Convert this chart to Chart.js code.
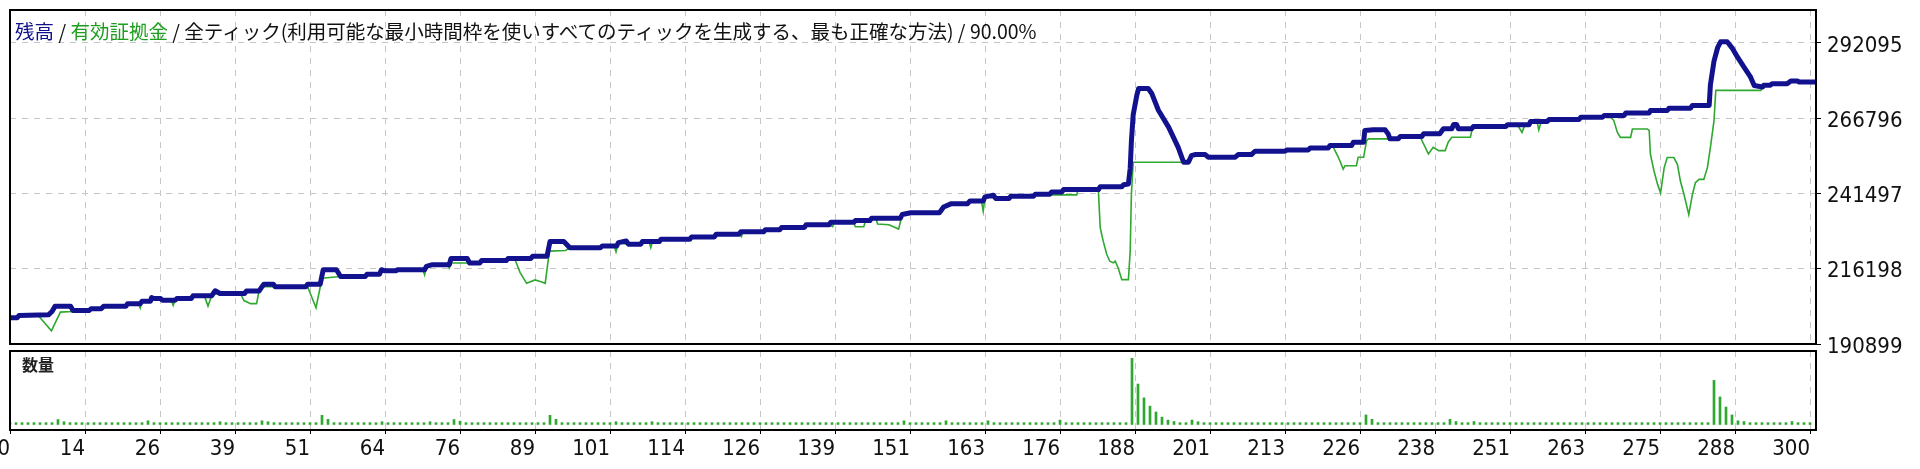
<!DOCTYPE html>
<html lang="ja">
<head>
<meta charset="UTF-8">
<title>残高 / 有効証拠金</title>
<script src="https://cdn.jsdelivr.net/npm/chart.js"></script>
<style>
  html, body { margin: 0; padding: 0; background: #fff; }
  #wrap { position: relative; width: 1920px; height: 469px; overflow: hidden; }
  #main { position: absolute; left: 0; top: 0; }
  #vol { position: absolute; left: 0; top: 345px; }
  .title { position: absolute; left: 15px; top: 18px; font: 19.5px "Noto Sans CJK JP", sans-serif; line-height: 26px; color: #111; white-space: nowrap; }
  .title .bal { color: #10108c; }
  .title .eq { color: #1e9e1e; }
  .vlab { position: absolute; left: 22px; top: 353px; font: bold 16px "Noto Sans CJK JP", sans-serif; line-height: 22px; color: #222; }
</style>
</head>
<body>
<div id="wrap">
  <canvas id="main" width="1920" height="364"></canvas>
  <canvas id="vol" width="1920" height="124"></canvas>
  <div class="title"><span class="bal">残高</span> / <span class="eq">有効証拠金</span> / 全ティック(利用可能な最小時間枠を使いすべてのティックを生成する、最も正確な方法) / 90.00%</div>
  <div class="vlab">数量</div>
</div>
<script>
// 取引番号ごとの残高 [取引番号, 金額]
const balance = [
  [0,199700],[1.2,199700],[1.5,200470],[6.4,200700],[7.0,201840],[7.5,203550],[10.1,203550],[10.5,202180],
  [13.2,202180],[13.5,202750],[15.2,202750],[15.6,203550],[19.3,203550],[19.6,204460],[21.7,204460],[22.0,205260],
  [23.4,205260],[23.6,206510],[24.0,206170],[25.1,206170],[25.4,205600],[27.5,205600],[27.8,206170],[30.2,206170],
  [30.5,207080],[33.6,207080],[34.2,208790],[35.0,207880],[39.1,207880],[39.4,208680],[41.5,208680],[42.0,210160],
  [42.3,210960],[43.9,210960],[44.2,210160],[49.3,210160],[49.6,210960],[51.7,210960],[52.2,215860],[54.4,215860],
  [55.1,213580],[59.2,213580],[59.5,214380],[61.6,214380],[61.9,215860],[62.5,215510],[64.3,215510],[64.6,215860],
  [69.1,215860],[69.4,217000],[70.4,217570],[73.2,217570],[73.5,219620],[76.2,219620],[76.6,218140],[78.3,218140],
  [78.6,218930],[82.7,218930],[83.0,219620],[86.8,219620],[87.1,220410],[89.5,220410],[90.0,225320],[92.3,225320],
  [93.3,223260],[98.4,223260],[98.7,223830],[101.1,223830],[101.4,224970],[102.7,225540],[103.1,224400],[105.1,224400],
  [105.4,225320],[108.2,225320],[108.5,226110],[113.3,226110],[113.6,226910],[117.4,226910],[117.7,227820],[121.5,227820],
  [121.8,228620],[125.6,228620],[125.9,229300],[128.3,229300],[128.6,230100],[132.4,230100],[132.7,231010],[136.5,231010],
  [136.8,231810],[140.6,231810],[140.9,232380],[143.3,232380],[143.6,233180],[148.4,233180],[148.7,234430],[150.1,235000],
  [154.9,235000],[155.6,236940],[156.9,238080],[159.6,238080],[160.0,238990],[162.2,238990],[162.5,240360],[163.9,240930],
  [164.3,239790],[166.5,239790],[166.8,240590],[170.6,240590],[170.9,241270],[173.3,241270],[173.6,242000],[175.3,242000],
  [175.6,242800],[181.4,242800],[181.7,243760],[185.3,243760],[185.6,244430],[186.4,244700],[186.7,250000],[186.9,259000],
  [187.2,268000],[187.8,274500],[188.1,276800],[189.7,276800],[190.3,275100],[191.4,269500],[193.1,263800],[194.7,257000],
  [195.6,252000],[196.4,252000],[196.9,254200],[197.5,254600],[199.2,254600],[199.7,253700],[204.2,253700],[204.7,254600],
  [206.9,254600],[207.5,255700],[212.5,255700],[212.8,256150],[216.4,256150],[216.7,256820],[219.7,256820],[220.0,257600],
  [223.6,257600],[223.9,258740],[225.6,258740],[225.8,262700],[227.2,262900],[229.2,262900],[229.7,261500],[230.0,259870],
  [231.4,259870],[231.7,260660],[235.3,260660],[235.6,261560],[238.3,261560],[238.9,263240],[240.3,263240],[240.6,264700],
  [241.1,264700],[241.4,263240],[243.6,263240],[243.9,264040],[249.3,264040],[249.6,264650],[253.2,264650],[253.4,265670],
  [256.2,265670],[256.5,266340],[261.5,266340],[261.8,267140],[265.4,267140],[265.7,267700],[269.0,267700],[269.3,268600],
  [273.2,268600],[273.4,269390],[276.2,269390],[276.5,270180],[280.1,270180],[280.4,271090],[283.2,271090],[283.4,278000],
  [284.0,286000],[284.6,290500],[285.1,292500],[286.2,292500],[287.1,290200],[287.9,287400],[289.0,284000],[290.1,280600],
  [290.7,277800],[292.1,277300],[292.3,277900],[293.4,277900],[293.7,278430],[296.2,278430],[296.8,279330],[297.9,279330],
  [298.2,278990],[301,278990]
];

// 有効証拠金 [取引番号, 金額]
const equity = [
  [0,199700],[1.2,199700],[1.5,200470],[4.7,200470],[6.9,195340],[8.4,201610],[10.3,201800],[10.5,202180],
  [13.2,202180],[13.5,202750],[15.2,202750],[15.6,203550],[19.3,203550],[19.6,204460],[21.4,204460],[21.7,202980],
  [22.0,205260],[23.6,205260],[24.0,206170],[25.1,206170],[25.4,205600],[26.9,205600],[27.2,203890],[27.5,205600],
  [27.8,206170],[30.2,206170],[30.5,207080],[32.4,207080],[33.0,203660],[33.6,207080],[34.0,207880],[38.4,207880],
  [39.0,205500],[40.1,204460],[41.1,204460],[41.5,208680],[42.0,210160],[49.6,210160],[51.0,203090],[52.0,213000],
  [55.1,213580],[59.2,213580],[59.5,214380],[61.6,214380],[61.9,215510],[64.3,215510],[64.6,215860],[68.8,215860],
  [69.1,214150],[69.4,217000],[70.4,217570],[73.0,217570],[73.2,216430],[73.6,218140],[78.3,218140],[78.6,218930],
  [82.7,218930],[83.0,219620],[84.1,219620],[85.0,215000],[86.1,211300],[87.5,212440],[88.5,211800],[89.2,211300],
  [89.9,222120],[92.6,222350],[93.3,223260],[98.4,223260],[98.7,223830],[100.7,223830],[101.0,221900],[101.4,224970],
  [103.1,224400],[105.1,224400],[105.4,225320],[106.5,225320],[106.8,223260],[107.1,225320],[108.2,225320],[108.5,226110],
  [113.3,226110],[113.6,226910],[117.4,226910],[117.7,227820],[121.6,227820],[121.9,227020],[122.2,228620],[125.6,228620],
  [125.9,229300],[128.3,229300],[128.6,230100],[132.4,230100],[132.7,231010],[136.5,231010],[137.1,230330],[137.4,231810],
  [140.6,231810],[140.9,230330],[142.3,230330],[142.6,232380],[143.3,232380],[143.6,233180],[144.3,233180],[144.6,231240],
  [146.5,231000],[148.1,229530],[148.7,234430],[150.1,235000],[154.9,235000],[155.6,236940],[156.9,238080],[159.6,238080],
  [160.0,238990],[161.9,238990],[162.2,235570],[162.5,240360],[163.9,240360],[164.3,239790],[166.5,239790],[166.8,240590],
  [170.6,240590],[170.9,241270],[173.3,241270],[173.6,241050],[177.8,241050],[178.0,242800],[181.4,242400],[181.7,229990],
  [182.2,225480],[182.8,220990],[183.3,218730],[183.9,218170],[184.2,218730],[184.7,216480],[185.3,212530],[186.4,212530],
  [186.7,222110],[186.9,241270],[187.2,251980],[196.4,251980],[196.9,254200],[197.5,254600],[199.2,254600],[199.7,253700],
  [204.2,253700],[204.7,254600],[206.9,254600],[207.5,255700],[212.5,255700],[212.8,256150],[216.4,256150],[216.7,256820],
  [219.7,256820],[220.0,257600],[220.3,257600],[220.6,256820],[221.4,253670],[222.2,249720],[222.5,250850],[224.4,250850],
  [224.7,253670],[225.6,253670],[226.1,259300],[226.4,259870],[231.4,259870],[231.7,260660],[235.0,260660],[236.4,254800],
  [237.2,257050],[238.1,255920],[239.2,255920],[239.7,258740],[240.3,260400],[243.4,260400],[243.7,263070],[244.3,263970],
  [249.3,263970],[249.6,264650],[251.2,264650],[252.0,262050],[252.5,264650],[253.2,264650],[253.4,265670],[254.5,265670],
  [254.8,262850],[255.2,265670],[256.2,265670],[256.5,266340],[261.5,266340],[261.8,267140],[265.4,267140],[265.7,267700],
  [266.8,267140],[267.3,266010],[267.9,262050],[268.4,260360],[270.1,260360],[270.4,263180],[272.9,263180],[273.2,262620],
  [273.4,254720],[274.0,249070],[274.6,244560],[275.1,241730],[275.7,250200],[276.2,253590],[277.3,253590],[277.9,251330],
  [278.4,245680],[279.0,241170],[279.8,234390],[280.4,241170],[280.9,245120],[281.5,246250],[282.3,246250],[282.9,250200],
  [283.4,256970],[284.0,266010],[284.3,276170],[291.8,276170],[292.1,277300],[292.3,277900],[293.4,277900],[293.7,278430],
  [296.2,278430],[296.8,279330],[297.9,279330],[298.2,278990],[301,278990]
];

// 取引ごとの数量 (取引番号 0〜300)
const volumes = [
  .1,.1,.1,.1,.1,.1,.1,.1,.27,.15,.1,.1,.1,.1,.1,.1,.1,.1,.1,.1,
  .1,.1,.1,.2,.1,.1,.1,.1,.1,.1,.1,.1,.1,.1,.1,.15,.1,.1,.1,.1,
  .1,.1,.2,.15,.1,.1,.1,.1,.1,.1,.1,.1,.5,.28,.1,.1,.1,.1,.1,.1,
  .1,.1,.15,.1,.1,.1,.1,.1,.1,.1,.15,.1,.1,.1,.27,.18,.1,.1,.1,.1,
  .1,.1,.1,.1,.1,.1,.1,.1,.1,.1,.5,.28,.1,.1,.1,.1,.1,.1,.1,.1,
  .1,.15,.1,.1,.1,.1,.1,.15,.1,.1,.1,.1,.1,.1,.1,.1,.1,.1,.1,.1,
  .1,.1,.1,.1,.1,.1,.1,.1,.1,.1,.1,.1,.1,.1,.1,.1,.1,.1,.1,.1,
  .1,.1,.1,.1,.1,.1,.1,.1,.1,.2,.1,.1,.1,.1,.1,.1,.2,.1,.1,.1,
  .1,.1,.1,.2,.1,.1,.1,.1,.1,.1,.1,.1,.1,.1,.1,.24,.1,.1,.1,.1,
  .1,.1,.1,.1,.1,.1,.1,3.6,2.2,1.45,1.0,.68,.4,.24,.16,.1,.1,.24,.15,.1,
  .1,.1,.1,.1,.1,.1,.1,.1,.1,.1,.1,.1,.1,.1,.1,.1,.1,.1,.1,.1,
  .1,.1,.1,.1,.1,.1,.52,.28,.1,.1,.1,.1,.1,.1,.1,.1,.1,.1,.1,.1,
  .28,.16,.1,.1,.16,.1,.1,.1,.1,.1,.1,.1,.1,.1,.1,.1,.1,.1,.1,.1,
  .1,.1,.1,.1,.1,.1,.1,.1,.1,.1,.1,.1,.1,.1,.1,.1,.1,.1,.1,.1,
  .1,.1,.1,.1,2.4,1.5,.95,.52,.2,.16,.1,.1,.1,.1,.1,.1,.1,.16,.1,.1,
  .1
];

const xLabels = ['0','14','26','39','51','64','76','89','101','114','126','139','151','163','176','188','201','213','226','238','251','263','275','288','300'];
const yTicks = [190899, 216198, 241497, 266796, 292095];

const gridColor = '#c6c6c6';
const tickFont = { family: '"DejaVu Sans Condensed", "Liberation Sans", sans-serif', size: 22 };

// 目盛りは 12.5 取引ごとに等間隔
const xTicks = xLabels.map((_, i) => i * 12.5);

// ラベルのはみ出し分で描画領域が縮まないようにする
function noOverflow(s) {
  s.paddingTop = 0; s.paddingBottom = 0; s.paddingLeft = 0; s.paddingRight = 0;
}

// 枠線
const frame = {
  id: 'frame',
  afterDraw(chart) {
    const { ctx, chartArea: a } = chart;
    ctx.save();
    ctx.strokeStyle = '#000';
    ctx.lineWidth = 2;
    ctx.strokeRect(a.left, a.top, a.right - a.left, a.bottom - a.top);
    ctx.restore();
  }
};

new Chart(document.getElementById('main'), {
  type: 'line',
  data: {
    datasets: [
      {
        label: '残高',
        data: balance.map(p => ({ x: p[0], y: p[1] })),
        borderColor: '#12128e',
        borderWidth: 5,
        pointRadius: 0,
        tension: 0,
        borderJoinStyle: 'round'
      },
      {
        label: '有効証拠金',
        data: equity.map(p => ({ x: p[0], y: p[1] })),
        borderColor: '#2ea82e',
        borderWidth: 1.6,
        pointRadius: 0,
        tension: 0
      }
    ]
  },
  options: {
    responsive: false,
    animation: false,
    events: [],
    layout: { padding: { left: 10, top: 10, right: 0, bottom: 20 } },
    plugins: { legend: { display: false }, tooltip: { enabled: false } },
    scales: {
      x: {
        type: 'linear', min: 0, max: 301,
        afterBuildTicks: s => { s.ticks = xTicks.map(v => ({ value: v })); },
        afterFit: s => { s.height = 0; noOverflow(s); },
        ticks: { display: false },
        grid: { color: gridColor, drawTicks: false },
        border: { display: false, dash: [6, 6] }
      },
      y: {
        position: 'right', min: 190899, max: 303189,
        afterBuildTicks: s => { s.ticks = yTicks.map(v => ({ value: v })); },
        afterFit: s => { s.width = 104; noOverflow(s); },
        ticks: { color: '#111', font: tickFont, padding: 6, labelOffset: 3, callback: v => String(v) },
        grid: { color: gridColor, tickColor: '#000', tickLength: 5 },
        border: { display: false, dash: [6, 6] }
      }
    }
  },
  plugins: [frame]
});

new Chart(document.getElementById('vol'), {
  type: 'bar',
  data: {
    datasets: [{
      label: '数量',
      data: volumes.map((v, i) => ({ x: i, y: v })),
      backgroundColor: '#2ea82e',
      barThickness: 2
    }]
  },
  options: {
    responsive: false,
    animation: false,
    events: [],
    layout: { padding: { left: 10, top: 6, right: 0, bottom: 0 } },
    plugins: { legend: { display: false }, tooltip: { enabled: false } },
    scales: {
      x: {
        type: 'linear', min: 0, max: 301, offset: false,
        afterBuildTicks: s => { s.ticks = xTicks.map(v => ({ value: v })); },
        afterFit: s => { s.height = 39; noOverflow(s); },
        ticks: {
          color: '#111', font: tickFont, padding: 2, align: 'end',
          autoSkip: false, maxRotation: 0,
          callback: (v, i) => xLabels[i]
        },
        grid: { color: gridColor, tickColor: '#000', tickLength: 4, offset: false },
        border: { display: false, dash: [6, 6] }
      },
      y: {
        position: 'right', min: -0.3, max: 4,
        afterFit: s => { s.width = 104; noOverflow(s); },
        ticks: { display: false },
        grid: { display: false },
        border: { display: false }
      }
    }
  },
  plugins: [frame]
});
</script>
</body>
</html>
